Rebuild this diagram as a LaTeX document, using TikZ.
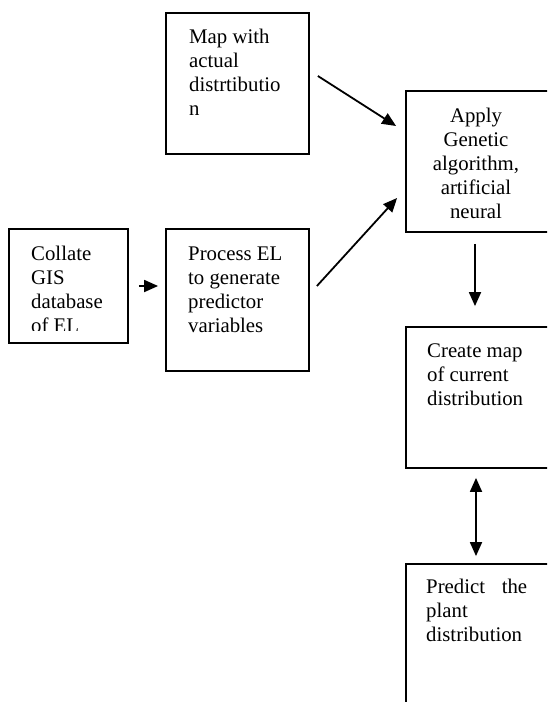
\documentclass[tikz,border=0pt]{standalone}
\usepackage{fontspec}
\setmainfont{Liberation Serif}
\usetikzlibrary{arrows.meta,calc}
\begin{document}
\begin{tikzpicture}[x=1pt,y=-1pt,
  box/.style={draw,line width=1.8pt,rectangle,inner sep=0pt},
  lbl/.style={anchor=base west,inner sep=0pt,align=left,font=\fontsize{20.8}{24}\selectfont},
  clbl/.style={anchor=base,inner sep=0pt,align=center,font=\fontsize{20.8}{24}\selectfont},
  conn/.style={line width=1.8pt,-{Triangle[length=14pt,width=12pt]}},
  dconn/.style={line width=1.8pt,{Triangle[length=14pt,width=12pt]}-{Triangle[length=14pt,width=12pt]}}]
\useasboundingbox (0,0) rectangle (547,702);
\clip (0,0) rectangle (547,702);
% boxes
\node[box,minimum width=143pt,minimum height=141pt] (map) at (237.5,83.5) {};
\node[box,minimum width=119pt,minimum height=114pt] (collate) at (68.5,286) {};
\node[box,minimum width=143pt,minimum height=142pt] (process) at (237.5,300) {};
\node[box,minimum width=160pt,minimum height=141pt] (apply) at (486,161.5) {};
\node[box,minimum width=160pt,minimum height=141pt] (create) at (486,397.5) {};
\node[box,minimum width=160pt,minimum height=160pt] (predict) at (486,644) {};
% texts (anchor at baseline of last line)
\node[lbl] (tmap) at (189,115) {Map with\\actual\\distrtibutio\\n};
\begin{scope}
\clip (10,230) rectangle (127,330);
\node[lbl] (tcollate) at (31,332) {Collate\\GIS\\database\\of EL};
\end{scope}
\node[lbl] (tprocess) at (188,332) {Process EL\\to generate\\predictor\\variables};
\node[clbl] (tapply) at (476,218) {Apply\\Genetic\\algorithm,\\artificial\\neural};
\node[lbl] (tcreate) at (427,405) {Create map\\of current\\distribution};
\node[lbl] (tpredict) at (426,641) {\hbox to 101pt{Predict\hfill the}\\plant\\distribution};
% connectors
\draw[conn] ($(collate.east)+(10,0)$) -- ($(process.west)+(-7,-14)$);
\draw[conn] ($(map.east)+(8,-7.5)$) -- ($(apply.west)+(-9,-35.5)$);
\draw[conn] ($(process.east)+(7,-14)$) -- ($(apply.west)+(-8,36.5)$);
\draw[conn] ($(apply.south)+(-11,11)$) -- ($(create.north)+(-11,-20)$);
\draw[dconn] ($(create.south)+(-10,9)$) -- ($(predict.north)+(-10,-7)$);
\end{tikzpicture}
\end{document}
